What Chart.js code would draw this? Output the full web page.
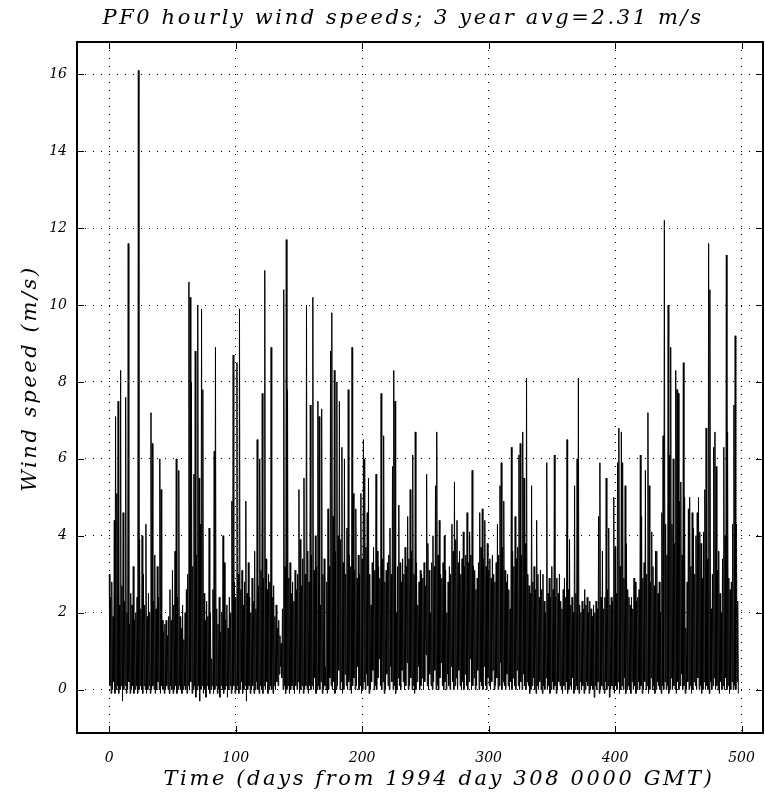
<!DOCTYPE html>
<html>
<head>
<meta charset="utf-8">
<script src="https://cdn.jsdelivr.net/npm/chart.js@4.4.0/dist/chart.umd.min.js"></script>
<style>
    html, body { margin: 0; padding: 0; background: #fff; }
</style>
</head>
<body>
<canvas id="wind-chart" width="765" height="797"></canvas>
<script>
// daily peak wind speed (m/s), day 0 .. 497
var dailyMax = [
    3.0, 2.4, 2.8, 1.9, 4.4, 7.1, 5.1, 7.5, 2.2, 8.3,
    2.7, 4.6, 2.3, 7.6, 2.0, 11.6, 1.7, 2.5, 2.2, 3.2,
    1.8, 2.0, 2.4, 16.1, 3.9, 2.1, 4.0, 3.0, 2.2, 4.3,
    1.9, 2.5, 2.0, 7.2, 6.4, 2.3, 3.5, 2.1, 3.2, 2.4,
    6.0, 5.2, 1.8, 1.5, 1.7, 1.8, 1.4, 1.9, 2.6, 1.8,
    3.1, 2.2, 3.6, 6.0, 2.4, 5.7, 1.9, 1.6, 2.2, 1.3,
    2.0, 2.6, 3.0, 10.6, 10.2, 8.0, 3.2, 5.6, 8.8, 3.5,
    10.0, 5.5, 4.3, 9.9, 7.8, 2.5, 1.8, 2.3, 1.9, 4.2,
    2.0, 0.8, 2.6, 6.2, 8.9, 2.1, 1.7, 2.4, 1.5, 2.0,
    4.0, 3.3, 1.8, 2.2, 1.6, 2.4, 2.0, 4.9, 8.7, 2.8,
    2.4, 8.5, 3.0, 9.9, 2.6, 3.1, 2.2, 2.8, 4.9, 2.5,
    3.3, 2.4, 2.0, 2.9, 2.3, 3.6, 2.1, 6.5, 2.7, 6.0,
    3.1, 7.7, 2.9, 10.9, 3.4, 2.6, 3.0, 2.8, 8.9, 2.4,
    2.7, 1.9, 2.2, 1.6, 1.8, 1.4, 1.2, 2.1, 10.4, 3.2,
    11.7, 7.8, 2.9, 3.3, 2.5, 2.8, 2.3, 3.1, 2.6, 3.0,
    5.2, 3.9, 2.7, 3.4, 5.5, 3.0, 10.0, 3.6, 2.8, 7.4,
    3.5, 10.2, 3.1, 4.0, 3.2, 7.5, 7.1, 2.2, 7.3, 3.0,
    3.4, 0.6, 2.8, 4.7, 3.2, 8.8, 9.8, 4.5, 8.3, 3.6,
    8.0, 4.0, 7.5, 3.9, 6.3, 3.3, 6.0, 3.0, 4.2, 7.8,
    3.5, 3.2, 8.9, 5.1, 3.1, 4.7, 2.9, 3.5, 3.0, 5.1,
    3.4, 6.5, 6.0, 3.7, 4.6, 5.5, 3.0, 2.2, 3.3, 3.7,
    3.1, 5.6, 3.6, 3.2, 2.9, 7.7, 3.4, 6.6, 2.8, 3.1,
    3.3, 3.5, 4.2, 3.0, 5.8, 8.3, 7.5, 2.0, 3.2, 4.8,
    3.3, 2.8, 3.4, 3.0, 3.7, 3.2, 4.5, 3.4, 5.2, 3.6,
    6.1, 3.0, 6.7, 3.3, 2.2, 2.8, 3.1, 3.0, 2.9, 3.3,
    2.7, 5.6, 3.8, 3.1, 2.0, 3.3, 4.0, 3.2, 5.3, 6.7,
    3.5, 4.4, 3.0, 2.9, 3.3, 4.0, 3.1, 2.0, 2.8, 3.2,
    3.0, 4.3, 3.6, 5.4, 3.9, 4.4, 3.3, 3.6, 3.0, 3.4,
    4.1, 3.2, 3.5, 4.6, 3.3, 4.1, 3.5, 5.7, 3.2, 3.1,
    2.6, 2.9, 3.3, 4.6, 3.7, 4.7, 3.4, 4.4, 3.2, 3.8,
    3.1, 3.4, 2.9, 3.5, 3.0, 2.8, 3.3, 4.3, 3.5, 5.3,
    5.9, 3.7, 4.9, 3.1, 2.8, 3.0, 2.6, 2.1, 6.3, 3.6,
    3.2, 4.5, 3.4, 3.7, 6.1, 6.4, 3.5, 6.7, 5.5, 3.8,
    8.1, 3.0, 2.7, 2.5, 5.3, 2.8, 3.2, 2.6, 4.4, 3.0,
    2.4, 3.1, 2.6, 3.0, 2.3, 2.0, 5.9, 2.5, 2.9, 2.4,
    3.2, 2.6, 6.1, 2.4, 2.9, 2.5, 3.0, 2.3, 2.1, 2.6,
    2.9, 2.4, 6.5, 2.6, 3.9, 2.2, 2.4, 2.0, 5.3, 2.5,
    6.0, 8.1, 2.2, 2.0, 2.3, 2.1, 2.6, 2.2, 2.4, 2.0,
    2.3, 2.1, 1.9, 2.2, 2.0, 2.3, 2.1, 4.5, 5.9, 2.4,
    3.6, 2.1, 2.4, 5.5, 2.6, 4.2, 2.2, 2.4, 2.3, 5.0,
    3.7, 2.5, 5.9, 6.8, 3.2, 6.7, 5.9, 2.9, 5.3, 3.8,
    2.6, 2.4, 2.2, 2.4, 2.1, 2.9, 2.8, 2.3, 2.4, 2.6,
    6.1, 4.5, 2.9, 3.3, 5.7, 3.0, 7.2, 5.3, 2.8, 4.1,
    3.2, 2.7, 3.6, 3.6, 2.5, 2.8, 2.0, 4.6, 6.6, 12.2,
    4.3, 3.5, 10.0, 6.1, 8.9, 4.3, 6.0, 3.8, 8.3, 7.8,
    7.7, 4.9, 5.4, 3.5, 8.5, 5.0, 1.6, 2.8, 4.7, 5.0,
    3.2, 4.6, 4.2, 3.0, 4.0, 4.6, 5.0, 4.1, 3.8, 2.9,
    4.1, 5.2, 6.8, 3.4, 11.6, 10.4, 2.1, 3.0, 6.3, 6.7,
    5.8, 3.1, 3.6, 2.5, 2.0, 3.4, 6.3, 4.0, 11.3, 6.7,
    2.9, 2.6, 2.8, 4.3, 7.4, 9.2, 4.3, 2.3
];

// daily lowest wind speed (m/s), day 0 .. 497
var dailyMin = [
    0.1, -0.1, 0.0, 0.2, -0.1, 0.0, 0.1, -0.1, 0.0, 0.1, -0.3, 0.0, 0.1, -0.1, 0.0, 0.2, -0.1, 0.0, 0.1, -0.1,
    0.0, 0.1, -0.1, 0.0, 0.1, 0.0, -0.1, 0.1, 0.0, -0.1, 0.0, 0.1, -0.1, 0.0, 0.1, 0.0, -0.1, 0.0, 0.2, 0.0,
    -0.1, 0.1, 0.0, -0.1, 0.0, 0.1, 0.0, -0.1, 0.1, 0.0, -0.1, 0.0, 0.1, -0.1, 0.0, 0.1, 0.0, -0.1, 0.0, 0.1,
    0.0, -0.1, 0.1, 0.0, 0.2, -0.1, 0.0, 0.1, -0.2, 0.0, 0.1, -0.3, 0.0, 0.1, -0.1, 0.0, -0.2, 0.1, 0.0, -0.1,
    0.0, 0.1, -0.1, 0.0, 0.1, -0.1, 0.0, -0.2, 0.1, 0.0, -0.1, 0.0, 0.1, -0.2, 0.0, 0.1, -0.1, 0.0, 0.1, -0.1,
    0.0, 0.1, -0.1, 0.0, 0.2, -0.1, 0.0, 0.1, -0.3, 0.0, 0.1, -0.1, 0.0, 0.1, -0.1, 0.0, 0.2, 0.0, -0.1, 0.1,
    0.0, -0.1, 0.1, 0.0, 0.2, -0.1, 0.0, 0.1, 0.0, -0.1, 0.1, 0.0, 0.2, 0.1, 0.4, 0.6, 0.3, 0.0, 0.1, -0.1,
    0.0, 0.1, -0.1, 0.0, 0.1, 0.0, -0.1, 0.1, 0.0, 0.2, -0.1, 0.0, 0.1, -0.1, 0.0, 0.1, 0.0, -0.1, 0.1, 0.0,
    0.1, 0.0, 0.3, -0.1, 0.0, 0.1, 0.0, 0.2, -0.1, 0.0, 0.1, 0.0, -0.1, 0.0, 0.3, 0.1, 0.0, 0.2, -0.1, 0.0,
    0.1, 0.5, 0.0, 0.2, -0.1, 0.0, 0.4, 0.1, 0.0, 0.2, 0.0, -0.1, 0.1, 0.3, 0.0, 0.1, 0.6, 0.0, 0.1, -0.1,
    0.0, 0.2, 0.0, 0.4, 0.1, -0.1, 0.0, 0.2, 0.5, 0.0, 0.1, 0.0, 0.3, 0.8, 0.1, 0.0, 0.2, -0.1, 0.0, 0.4,
    0.1, 0.0, 0.6, 0.2, 0.0, 0.1, -0.1, 0.0, 0.3, 0.1, 0.0, 0.5, 0.2, 0.0, 0.1, 0.7, 0.0, 0.1, 0.3, 0.0,
    0.1, -0.1, 0.0, 0.2, 0.6, 0.0, 0.1, 0.3, 0.0, 0.2, 0.9, 0.1, 0.0, 0.4, 0.1, 0.0, 0.2, 0.5, 0.0, 0.1,
    0.0, 0.3, 0.7, 0.1, 0.0, 0.2, 0.0, 0.4, 0.1, 0.0, 0.6, 0.2, 0.0, 0.1, 0.3, 0.0, 0.5, 0.1, 0.0, 0.2,
    0.0, 0.4, 0.1, 0.0, 0.2, 0.8, 0.0, 0.1, 0.3, 0.0, 0.1, 0.5, 0.0, 0.2, 0.1, 0.0, 0.6, 0.1, 0.0, 0.3,
    0.1, 0.0, 0.2, 0.5, 0.0, 0.1, 0.3, 0.0, 0.1, 0.7, 0.0, 0.2, 0.1, 0.0, 0.4, 0.1, 0.0, 0.2, 0.0, 0.3,
    0.1, 0.0, 0.5, 0.1, 0.0, 0.2, 0.0, 0.4, 0.1, 0.0, 0.2, 0.1, -0.1, 0.0, 0.1, 0.3, 0.0, -0.1, 0.1, 0.0,
    0.2, 0.0, -0.1, 0.1, 0.0, 0.3, 0.0, 0.1, -0.1, 0.0, 0.2, 0.0, 0.1, -0.1, 0.0, 0.2, 0.1, 0.0, -0.1, 0.1,
    0.0, 0.2, -0.1, 0.0, 0.1, 0.0, 0.3, -0.1, 0.0, 0.1, 0.0, -0.1, 0.2, 0.0, 0.1, -0.1, 0.0, 0.2, 0.1, -0.1,
    0.0, 0.1, 0.0, -0.2, 0.1, 0.0, 0.2, -0.1, 0.0, 0.1, 0.0, -0.1, 0.2, 0.0, 0.1, -0.2, 0.0, 0.1, 0.0, -0.1,
    0.1, 0.0, 0.2, -0.1, 0.0, 0.1, 0.0, 0.3, -0.1, 0.0, 0.1, 0.0, -0.1, 0.2, 0.0, 0.1, -0.1, 0.0, 0.2, 0.0,
    0.1, -0.1, 0.0, 0.2, 0.0, 0.1, -0.1, 0.0, 0.3, 0.0, 0.1, -0.1, 0.0, 0.2, 0.1, 0.0, -0.1, 0.1, 0.0, 0.2,
    0.0, 0.1, -0.1, 0.0, 0.3, 0.0, 0.1, 0.0, -0.1, 0.2, 0.0, 0.1, 0.4, 0.0, 0.1, -0.1, 0.0, 0.2, 0.0, 0.1,
    -0.1, 0.0, 0.2, 0.1, 0.0, 0.3, 0.0, 0.1, -0.1, 0.0, 0.2, 0.0, 0.1, 0.0, -0.1, 0.2, 0.0, 0.1, 0.3, 0.0,
    0.1, 0.0, -0.1, 0.2, 0.0, 0.1, 0.0, 0.3, 0.0, 0.1, -0.1, 0.0, 0.2, 0.0, 0.1, 0.0, 0.2, -0.1
];

var xTicks = [0, 100, 200, 300, 400, 500];
var yTicks = [0, 2, 4, 6, 8, 10, 12, 14, 16];

var chartTitle = 'PF0 hourly wind speeds; 3 year avg=2.31 m/s';
var xTitle = 'Time (days from 1994 day 308 0000 GMT)';
var yTitle = 'Wind speed (m/s)';

// peak then low for each day, in time order
var windPoints = [];
dailyMax.forEach(function (v, i) {
    windPoints.push({x: i, y: v});
    windPoints.push({x: i + 0.5, y: dailyMin[i]});
});

var tickFont = {family: 'DejaVu Serif', style: 'italic', size: 14};

// box round the plot, with short inward tick marks on all four sides
var framePlugin = {
    id: 'frame',
    afterDraw: function (chart) {
        var ctx = chart.ctx;
        var a = chart.chartArea;
        var xs = chart.scales.x;
        var ys = chart.scales.y;
        ctx.save();
        ctx.strokeStyle = '#000';
        ctx.lineWidth = 1;
        ctx.beginPath();
        xTicks.forEach(function (v) {
            var px = Math.round(xs.getPixelForValue(v)) + 0.5;
            ctx.moveTo(px, a.bottom);
            ctx.lineTo(px, a.bottom - 7);
            ctx.moveTo(px, a.top);
            ctx.lineTo(px, a.top + 7);
        });
        yTicks.forEach(function (v) {
            var py = Math.round(ys.getPixelForValue(v)) + 0.5;
            ctx.moveTo(a.left, py);
            ctx.lineTo(a.left + 7, py);
            ctx.moveTo(a.right, py);
            ctx.lineTo(a.right - 7, py);
        });
        ctx.stroke();
        ctx.lineWidth = 2;
        ctx.strokeRect(a.left, a.top, a.right - a.left, a.bottom - a.top);
        ctx.restore();
    }
};

// titles in the wide, spaced italic of the original plot
var titlePlugin = {
    id: 'titles',
    afterDraw: function (chart) {
        var ctx = chart.ctx;
        var a = chart.chartArea;
        ctx.save();
        ctx.fillStyle = '#000';
        ctx.font = 'italic 21px "DejaVu Serif"';
        ctx.letterSpacing = '2.6px';
        ctx.textAlign = 'center';
        ctx.textBaseline = 'middle';
        ctx.fillText(chartTitle, 403, 19);
        ctx.fillText(xTitle, (a.left + a.right) / 2 + 19, 780);
        ctx.translate(31, (a.top + a.bottom) / 2 - 9);
        ctx.rotate(-Math.PI / 2);
        ctx.fillText(yTitle, 0, 0);
        ctx.restore();
    }
};

function drawWindChart() {
    var ctx = document.getElementById('wind-chart');

    new Chart(ctx, {
        type: 'line',
        data: {
            datasets: [{
                data: windPoints,
                borderColor: '#000',
                borderWidth: 1,
                pointRadius: 0,
                tension: 0,
                fill: false
            }]
        },
        options: {
            responsive: false,
            animation: false,
            devicePixelRatio: 1,
            layout: {padding: {left: 0, right: 2, top: 42, bottom: 0}},
            plugins: {
                legend: {display: false},
                tooltip: {enabled: false},
                title: {display: false}
            },
            scales: {
                x: {
                    type: 'linear',
                    min: -25.5,
                    max: 517,
                    afterBuildTicks: function (s) {
                        s.ticks = xTicks.map(function (v) { return {value: v}; });
                    },
                    afterFit: function (s) { s.height = 64; },
                    ticks: {font: tickFont, color: '#000', padding: 0, maxRotation: 0, autoSkip: false},
                    grid: {color: '#000', lineWidth: 1, drawTicks: true, tickLength: 17, tickColor: 'rgba(0,0,0,0)'},
                    border: {display: false, dash: [1, 7]}
                },
                y: {
                    type: 'linear',
                    min: -1.13,
                    max: 16.84,
                    afterBuildTicks: function (s) {
                        s.ticks = yTicks.map(function (v) { return {value: v}; });
                    },
                    afterFit: function (s) { s.width = 77; },
                    ticks: {font: tickFont, color: '#000', padding: 0, autoSkip: false},
                    grid: {color: '#000', lineWidth: 1, drawTicks: true, tickLength: 10, tickColor: 'rgba(0,0,0,0)'},
                    border: {display: false, dash: [1, 7]}
                }
            }
        },
        plugins: [framePlugin, titlePlugin]
    });
}

drawWindChart();
</script>
</body>
</html>
